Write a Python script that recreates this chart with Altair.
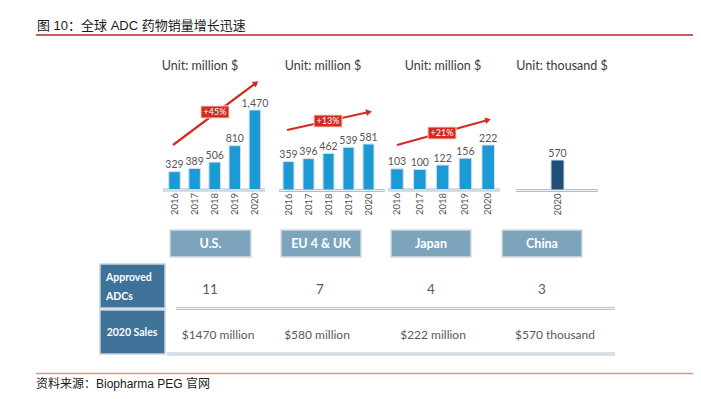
import math
import altair as alt
import pandas as pd

# ---------------- data ----------------
years = ["2016", "2017", "2018", "2019", "2020"]
us_sales = [329, 389, 506, 810, 1470]
eu_sales = [359, 396, 462, 539, 581]
jp_sales = [103, 100, 122, 156, 222]
cn_years = ["2020"]
cn_sales = [570]
regions = ["U.S.", "EU 4 & UK", "Japan", "China"]
units = ["Unit: million $", "Unit: million $", "Unit: million $", "Unit: thousand $"]
growth = ["+45%", "+13%", "+21%", ""]
approved = ["11", "7", "4", "3"]
sales_2020 = ["$1470 million", "$580 million", "$222 million", "$570 thousand"]
row_headers = [["Approved", "ADCs"], ["2020 Sales"]]
title_text = "图 10：全球 ADC 药物销量增长迅速"
source_text = "资料来源：Biopharma PEG 官网"

# ---------------- layout (reference pixel space) ----------------
panels = [
    dict(x0=174.5, step=20.1, base=189.5, maxh=79.5, bw=11.5, ax=(163, 265), unit=(200, 66),
         arrow=((173, 145), (256, 83)), lab=(215, 112), box=(170, 251), color="#1B9AD6"),
    dict(x0=288.5, step=20.0, base=190.0, maxh=46.0, bw=11.0, ax=(279, 385), unit=(323, 66),
         arrow=((287, 130), (369, 112)), lab=(328, 121), box=(281, 361), color="#1B9AD6"),
    dict(x0=397.0, step=22.8, base=189.5, maxh=44.5, bw=12.5, ax=(388, 500), unit=(443, 66),
         arrow=((397, 145), (488, 120)), lab=(442, 133), box=(391, 471), color="#1B9AD6"),
    dict(x0=557.5, step=0.0, base=190.0, maxh=30.0, bw=13.0, ax=(516, 598), unit=(562, 66),
         arrow=None, lab=None, box=(502, 582), color="#1F4E79"),
]
series = [(years, us_sales), (years, eu_sales), (years, jp_sales), (cn_years, cn_sales)]

W, H = 685, 383
xs = alt.Scale(domain=[8, 8 + W], nice=False, zero=False)
ys = alt.Scale(domain=[8, 8 + H], nice=False, zero=False, reverse=True)


def X(f="x"):
    return alt.X(f, type="quantitative", scale=xs, axis=None)


def Y(f="y"):
    return alt.Y(f, type="quantitative", scale=ys, axis=None)


def X2(f="x2"):
    return alt.X2(f)


def Y2(f="y2"):
    return alt.Y2(f)


FONT = "Lato"
CJK = "Liberation Sans, Noto Sans CJK SC"

# bars
bar_rows, val_rows, yr_rows, axis_rows = [], [], [], []
for p, (yrs, vals) in zip(panels, series):
    vmax = max(vals)
    for i, (yr, v) in enumerate(zip(yrs, vals)):
        cx = p["x0"] + i * p["step"]
        top = p["base"] - v / vmax * p["maxh"]
        bar_rows.append(dict(x=cx - p["bw"] / 2, x2=cx + p["bw"] / 2, y=top, y2=p["base"], c=p["color"]))
        val_rows.append(dict(x=cx, y=top - 1.5, t=f"{v:,}"))
        yr_rows.append(dict(x=cx, y=p["base"] + 3.5, t=yr))
    axis_rows.append(dict(x=p["ax"][0], x2=p["ax"][1], y=p["base"] + 0.5))

bars = alt.Chart(pd.DataFrame(bar_rows)).mark_bar(stroke="#d5dde5", strokeWidth=1).encode(
    x=X(), x2=X2(), y=Y(), y2=Y2(), color=alt.Color("c:N", scale=None))
vals = alt.Chart(pd.DataFrame(val_rows)).mark_text(
    baseline="bottom", fontSize=10.5, font=FONT, color="#555555").encode(x=X(), y=Y(), text="t:N")
yrs_t = alt.Chart(pd.DataFrame(yr_rows)).mark_text(
    angle=270, align="right", baseline="middle", fontSize=9.5, font=FONT, color="#555555").encode(
    x=X(), y=Y(), text="t:N")
axis_df = pd.DataFrame(axis_rows)
axis_a = alt.Chart(axis_df).mark_rule(color="#b4bec8", strokeWidth=3).encode(x=X(), x2=X2(), y=Y())
axis_b = alt.Chart(axis_df).mark_rule(color="#eef2f6", strokeWidth=1).encode(x=X(), x2=X2(), y=Y())

# unit captions
unit_df = pd.DataFrame([dict(x=p["unit"][0], y=p["unit"][1], t=u) for p, u in zip(panels, units)])
unit_t = alt.Chart(unit_df).mark_text(fontSize=12.5, font=FONT, color="#3a3a3a", baseline="middle").encode(
    x=X(), y=Y(), text="t:N")

# growth arrows
arr_rows, head_rows, lab_rows = [], [], []
for p, g in zip(panels, growth):
    if p["arrow"] is None:
        continue
    (x1, y1), (x2, y2) = p["arrow"]
    arr_rows.append(dict(x=x1, y=y1, x2=x2, y2=y2))
    ang = math.degrees(math.atan2(x2 - x1, -(y2 - y1))) % 360
    head_rows.append(dict(x=x2, y=y2, a=ang))
    lab_rows.append(dict(x=p["lab"][0] - 14, x2=p["lab"][0] + 14, y=p["lab"][1] - 6, y2=p["lab"][1] + 6,
                         cx=p["lab"][0], cy=p["lab"][1], t=g))
arrows = alt.Chart(pd.DataFrame(arr_rows)).mark_rule(color="#D42A22", strokeWidth=2.2).encode(
    x=X(), y=Y(), x2=X2(), y2=Y2())
heads = alt.Chart(pd.DataFrame(head_rows)).mark_point(
    shape="triangle-up", filled=True, color="#D42A22", size=45, opacity=1).encode(
    x=X(), y=Y(), angle=alt.Angle("a:Q", scale=None))
lab_df = pd.DataFrame(lab_rows)
lab_box = alt.Chart(lab_df).mark_rect(color="#D42A22", stroke="#f4d0cc", strokeWidth=1).encode(
    x=X(), x2=X2(), y=Y(), y2=Y2())
lab_txt = alt.Chart(lab_df).mark_text(color="white", fontSize=9, font=FONT, baseline="middle").encode(
    x=X("cx"), y=Y("cy"), text="t:N")

# region boxes
reg_df = pd.DataFrame([dict(x=p["box"][0], x2=p["box"][1], y=230, y2=257,
                            cx=(p["box"][0] + p["box"][1]) / 2, cy=244, t=r) for p, r in zip(panels, regions)])
reg_box = alt.Chart(reg_df).mark_rect(color="#7CA4BC", stroke="#d3dbe3", strokeWidth=1.5).encode(
    x=X(), x2=X2(), y=Y(), y2=Y2())
reg_txt = alt.Chart(reg_df).mark_text(color="white", fontSize=12.5, fontWeight="bold", font=FONT,
                                      baseline="middle").encode(x=X("cx"), y=Y("cy"), text="t:N")

# row headers
hdr_box_df = pd.DataFrame([dict(x=100, x2=165, y=264, y2=308), dict(x=100, x2=165, y=310, y2=354)])
hdr_box = alt.Chart(hdr_box_df).mark_rect(color="#3E7298", stroke="#c9d2db", strokeWidth=1.5).encode(
    x=X(), x2=X2(), y=Y(), y2=Y2())
hdr_txt_df = pd.DataFrame([
    dict(x=106, y=278, t=row_headers[0][0]),
    dict(x=106, y=297, t=row_headers[0][1]),
])
hdr_txt1 = alt.Chart(hdr_txt_df).mark_text(color="white", fontSize=10.5, fontWeight="bold", font=FONT,
                                           align="left", baseline="middle").encode(x=X(), y=Y(), text="t:N")
hdr_txt2 = alt.Chart(pd.DataFrame([dict(x=132, y=333, t=row_headers[1][0])])).mark_text(
    color="white", fontSize=10.5, fontWeight="bold", font=FONT, baseline="middle").encode(
    x=X(), y=Y(), text="t:N")

# table values
row1_x = [210, 320, 431, 542]
row2_x = [218, 317, 433, 555]
t1 = alt.Chart(pd.DataFrame(dict(x=row1_x, y=[290] * 4, t=approved))).mark_text(
    fontSize=13.5, font=FONT, color="#5a5a5a", baseline="middle").encode(x=X(), y=Y(), text="t:N")
t2 = alt.Chart(pd.DataFrame(dict(x=row2_x, y=[335] * 4, t=sales_2020))).mark_text(
    fontSize=12, font=FONT, color="#5a5a5a", baseline="middle").encode(x=X(), y=Y(), text="t:N")
sep_df = pd.DataFrame([dict(x=176, x2=615, y=308.5), dict(x=167, x2=615, y=354)])
sep_a = alt.Chart(sep_df).mark_rule(color="#b7c4d2", strokeWidth=3).encode(x=X(), x2=X2(), y=Y())
sep_b = alt.Chart(sep_df).mark_rule(color="#f2f5f8", strokeWidth=1).encode(x=X(), x2=X2(), y=Y())

# title / source
title_t = alt.Chart(pd.DataFrame([dict(x=37, y=26, t=title_text)])).mark_text(
    align="left", baseline="middle", fontSize=13, font=CJK, color="#1a1a1a").encode(x=X(), y=Y(), text="t:N")
source_t = alt.Chart(pd.DataFrame([dict(x=36, y=387.5, t=source_text)])).mark_text(
    align="left", baseline="alphabetic", fontSize=12, font=CJK, color="#1a1a1a").encode(x=X(), y=Y(), text="t:N")
title_line = alt.Chart(pd.DataFrame([dict(x=36, x2=8 + W, y=35)])).mark_rule(
    color="#B52A2A", strokeWidth=1.3).encode(x=X(), x2=X2(), y=Y())
source_line = alt.Chart(pd.DataFrame([dict(x=36, x2=8 + W, y=373.5)])).mark_rule(
    color="#E58C8C", strokeWidth=1.3).encode(x=X(), x2=X2(), y=Y())

chart = alt.layer(
    title_line, source_line, title_t, source_t,
    unit_t, axis_a, axis_b, bars, vals, yrs_t,
    arrows, heads, lab_box, lab_txt,
    reg_box, reg_txt, sep_a, sep_b, hdr_box, hdr_txt1, hdr_txt2, t1, t2,
).properties(
    width=W, height=H, padding=0,
    autosize=alt.AutoSizeParams(type="none"),
    background="white",
).configure_view(stroke=None)

chart.save("out.html", embed_options={"renderer": "svg", "actions": False})
